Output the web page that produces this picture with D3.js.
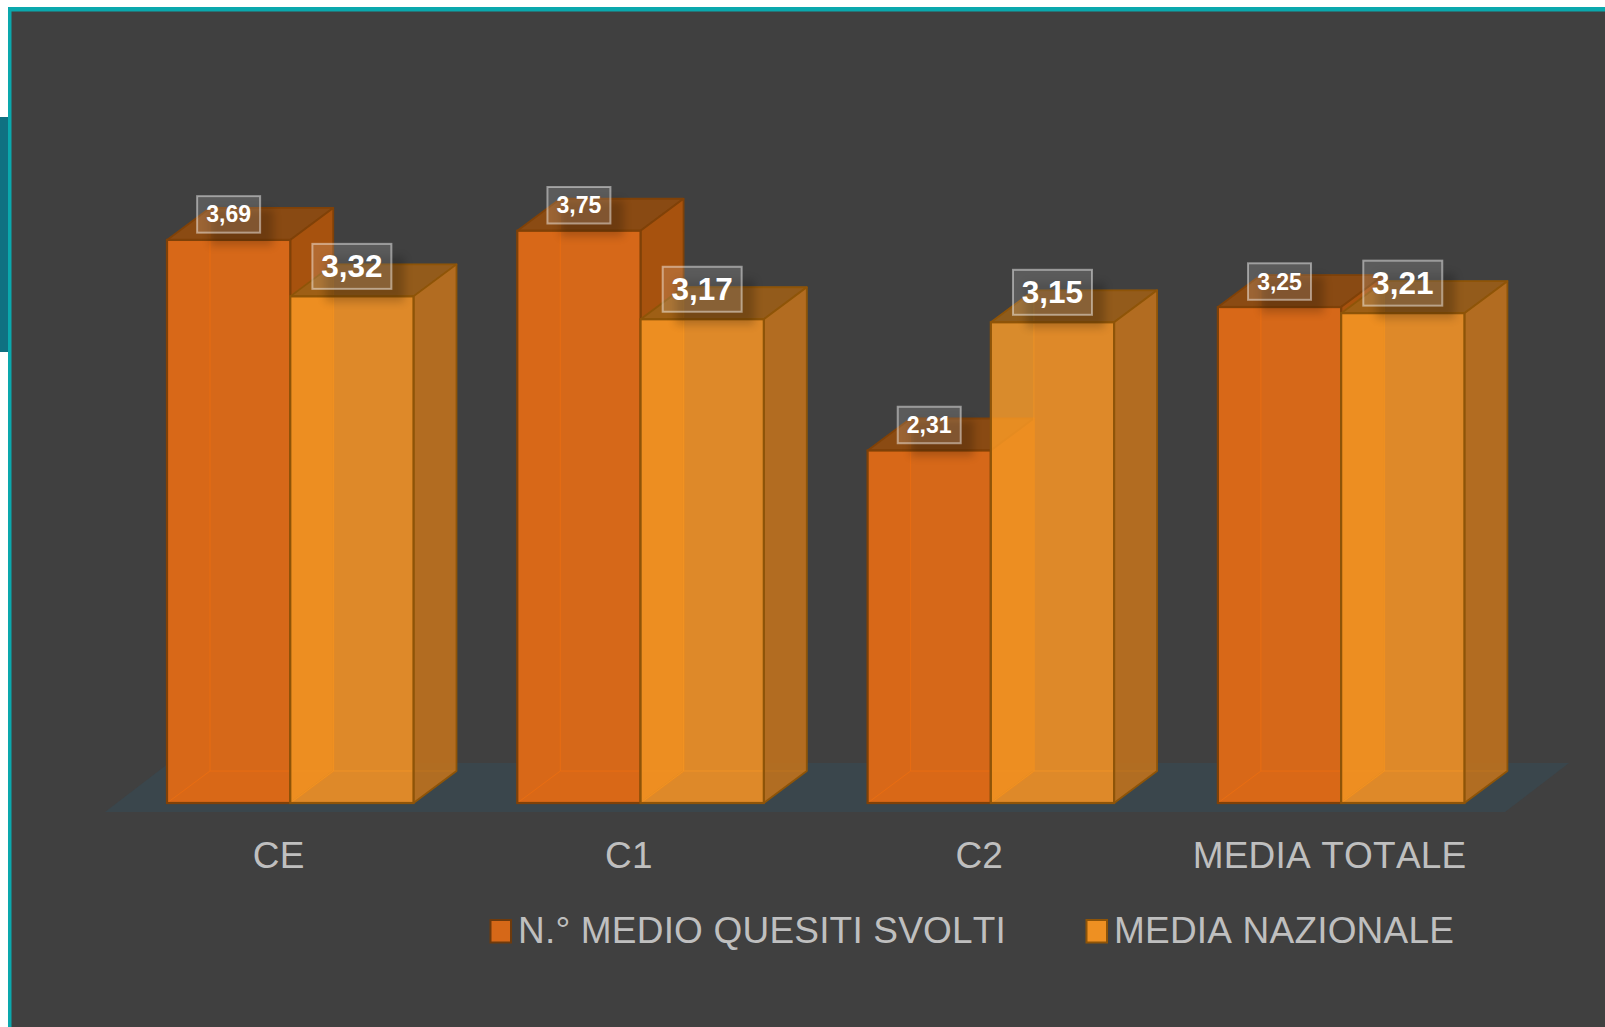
<!DOCTYPE html>
<html><head><meta charset="utf-8">
<script src="https://cdn.jsdelivr.net/npm/d3@7"></script>
<style>html,body{margin:0;padding:0;background:#fff}svg{display:block}text{font-family:"Liberation Sans",Arial,sans-serif;font-kerning:none}</style>
</head><body><svg id="c" width="1605" height="1027"></svg>
<script>
const categories = ["CE", "C1", "C2", "MEDIA TOTALE"];
const seriesNames = ["N.° MEDIO QUESITI SVOLTI", "MEDIA NAZIONALE"];
const mediaQuesiti = [3.69, 3.75, 2.31, 3.25];
const mediaNazionale = [3.32, 3.17, 3.15, 3.21];

const styles = [
  {front:"#FB720F", side:"#BA5606", top:"#974C0C", left:"rgba(255,110,0,.06)", back:"none", bottom:"rgba(255,110,0,.08)",
   stroke:"#7F4108", inner:"#E86C00", swatch:"#D66818", swatchStroke:"#6E3A0C", labelFs:23, boxW:63, boxH:36.5, off:25.5, base:8},
  {front:"#FF9E27", side:"#C1761D", top:"#9C6116", left:"none", back:"rgba(255,27,0,.15)", bottom:"rgba(255,27,0,.15)",
   stroke:"#8E5408", inner:"#F08A10", swatch:"#EE9022", swatchStroke:"#8E5408", labelFs:31.5, boxW:79, boxH:45, off:30, base:10.7}
];
const depthX = 43, depthY = 32;
const floorLeft = 105, floorRight = 1505, floorBackY = 763, floorFrontY = 812, floorDX = 64;

const svg = d3.select("#c");
const fmt = d3.formatLocale({decimal:",",thousands:".",grouping:[3],currency:["","€"]}).format(".2f");

const x = d3.scaleBand().domain(categories).range([105,1506.2]);
const xs = d3.scaleBand().domain([0,1]).range([62,308.5]);
const y = d3.scaleLinear().domain([0,4]).range([803,192.6]);

const defs = svg.append("defs");
defs.append("filter").attr("id","sh").attr("x","-30%").attr("y","-30%").attr("width","160%").attr("height","160%")
  .append("feGaussianBlur").attr("stdDeviation",4.5);

// frame
svg.append("rect").attr("x",0).attr("y",117).attr("width",9).attr("height",235).attr("fill","#0F7182");
svg.append("rect").attr("x",8).attr("y",7).attr("width",1597).attr("height",1020).attr("fill","#0AA8AD");
svg.append("rect").attr("x",11.5).attr("y",11.5).attr("width",1593.5).attr("height",1015.5).attr("fill","#404040");

// floor
svg.append("polygon").attr("fill","#3A464C").attr("points",[
  [floorLeft,floorFrontY],[floorRight,floorFrontY],[floorRight+floorDX,floorBackY],[floorLeft+floorDX,floorBackY]
].join(" "));

const rows = categories.map((c,i)=>({c,i,v:[mediaQuesiti[i],mediaNazionale[i]]}));
const poly = pts => pts.map(p=>p.join(",")).join(" ");

const groups = svg.selectAll("g.grp").data(rows).join("g").attr("class","grp")
  .attr("transform",d=>`translate(${x(d.c)},0)`);

// opaque backing: floor must not show through the front faces
groups.append("rect").attr("x",xs(0)).attr("width",xs.bandwidth()*2)
  .attr("y",floorBackY-1).attr("height",y(0)-floorBackY+1).attr("fill","#404040");

groups.each(function(d){
  const g = d3.select(this);
  d.v.forEach((val,s)=>{
    const st = styles[s], x0 = xs(s), x1 = x0+xs.bandwidth(), yt = y(val), yb = y(0);
    const b = g.append("g");
    const face = (pts,fill)=>b.append("polygon").attr("points",poly(pts)).attr("fill",fill)
      .attr("stroke",st.inner).attr("stroke-opacity",.3).attr("stroke-width",1).attr("stroke-linejoin","round");
    // inner faces
    face([[x0+depthX,yt-depthY],[x1+depthX,yt-depthY],[x1+depthX,yb-depthY],[x0+depthX,yb-depthY]],st.back);
    face([[x0,yt],[x0+depthX,yt-depthY],[x0+depthX,yb-depthY],[x0,yb]],st.left);
    face([[x0,yb],[x1,yb],[x1+depthX,yb-depthY],[x0+depthX,yb-depthY]],st.bottom);
    // outer faces
    b.append("g").attr("fill-opacity",.85).call(h=>{
      h.append("polygon").attr("points",poly([[x0,yt],[x1,yt],[x1+depthX,yt-depthY],[x0+depthX,yt-depthY]]))
        .attr("fill",st.top).attr("stroke",st.stroke).attr("stroke-width",1.8).attr("stroke-linejoin","round");
      h.append("polygon").attr("points",poly([[x1,yt],[x1+depthX,yt-depthY],[x1+depthX,yb-depthY],[x1,yb]]))
        .attr("fill",st.side).attr("stroke",st.stroke).attr("stroke-width",1.8).attr("stroke-linejoin","round");
    });
    b.append("rect").attr("x",x0).attr("y",yt).attr("width",x1-x0).attr("height",yb-yt)
      .attr("fill",st.front).attr("fill-opacity",.8).attr("stroke",st.stroke).attr("stroke-width",2.2);
  });
});

// data labels
const labels = svg.append("g");
rows.forEach(d=>d.v.forEach((val,s)=>{
  const st = styles[s], cx = x(d.c)+xs(s)+xs.bandwidth()/2, cy = y(val)-st.off;
  const l = labels.append("g");
  l.append("rect").attr("x",cx-st.boxW/2+13).attr("y",cy-st.boxH/2+13).attr("width",st.boxW).attr("height",st.boxH)
    .attr("fill","#000").attr("opacity",.2).attr("filter","url(#sh)");
  l.append("rect").attr("x",cx-st.boxW/2).attr("y",cy-st.boxH/2).attr("width",st.boxW).attr("height",st.boxH)
    .attr("fill","#fff").attr("fill-opacity",.14).attr("stroke","#fff").attr("stroke-opacity",.45).attr("stroke-width",2);
  l.append("text").attr("x",cx).attr("y",cy+st.base).attr("text-anchor","middle")
    .attr("font-size",st.labelFs).attr("font-weight","bold").attr("fill","#fff").text(fmt(val));
}));

// category axis
const axis = svg.append("g").attr("transform","translate(-1.5,868)")
  .call(d3.axisBottom(x).tickSize(0).tickPadding(0));
axis.select(".domain").remove();
axis.selectAll("text").attr("y",0).attr("dy",0).attr("fill","#BFBFBF")
  .attr("font-size",37).attr("letter-spacing",0.2).style("font-family",'"Liberation Sans",Arial,sans-serif');

// legend
const legendX = [489.5, 1085.5];
const lg = svg.selectAll("g.lg").data(seriesNames).join("g").attr("class","lg")
  .attr("transform",(d,i)=>`translate(${legendX[i]},0)`);
lg.append("rect").attr("x",1).attr("y",920).attr("width",20.5).attr("height",22.5)
  .attr("fill",(d,i)=>styles[i].swatch).attr("stroke",(d,i)=>styles[i].swatchStroke).attr("stroke-width",2);
lg.append("text").attr("x",28.5).attr("y",943).attr("font-size",37).attr("letter-spacing",0.19).attr("fill","#BFBFBF").text(d=>d);
</script></body></html>
